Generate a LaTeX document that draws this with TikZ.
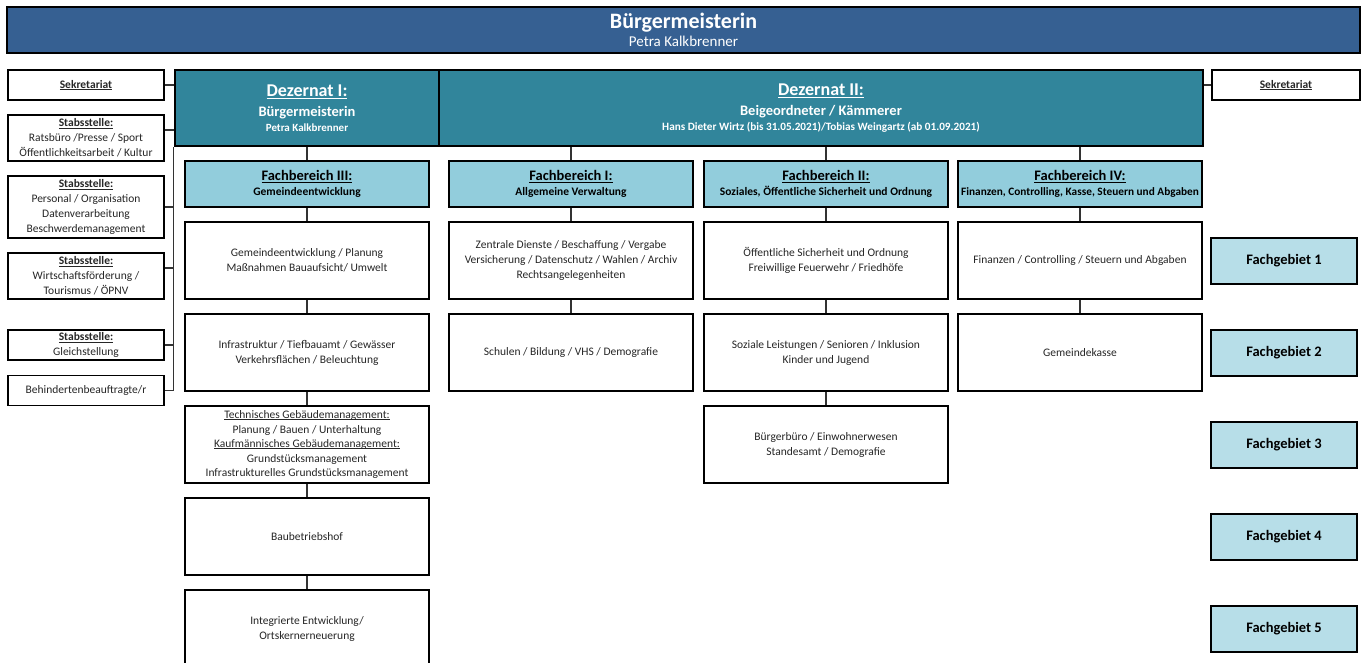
\documentclass[tikz,border=0pt]{standalone}
\usepackage{fontspec}
\setmainfont{Carlito}
\usetikzlibrary{calc,positioning}

\definecolor{bannerblue}{RGB}{54,96,146}
\definecolor{dezteal}{RGB}{49,133,155}
\definecolor{fbblue}{RGB}{146,205,220}
\definecolor{fgblue}{RGB}{183,222,232}

% underline at a fixed depth below the baseline
\newcommand{\undl}[1]{{\setbox0\hbox{#1}\leavevmode\rlap{\rule[-0.16em]{\wd0}{0.075em}}\box0}}

\tikzset{
	orgbox/.style={draw, line width=1.8pt, fill=white, align=center, inner sep=0pt, text=black!85},
	stabbox/.style={orgbox, minimum width=156pt, font=\fontsize{11.5}{15}\selectfont},
	fbhead/.style={orgbox, fill=fbblue, text=black, minimum width=244pt, minimum height=46pt, font=\fontsize{11.5}{15}\selectfont\bfseries},
	fbbox/.style={orgbox, minimum width=244pt, minimum height=77pt, font=\fontsize{11.5}{15}\selectfont},
	fgbox/.style={orgbox, fill=fgblue, text=black, minimum width=146pt, minimum height=46pt, font=\fontsize{14.5}{16}\selectfont\bfseries},
	dezbox/.style={draw, line width=2.4pt, fill=dezteal, text=white, align=center, inner sep=0pt, minimum height=76pt, font=\fontsize{11}{15}\selectfont\bfseries},
	link/.style={line width=1.3pt, draw=black!80}
}

\begin{document}
\begin{tikzpicture}[x=1pt,y=-1pt]
	\useasboundingbox (0,0) rectangle (1362,663);
	\clip (0,0) rectangle (1362,663);

	% Leitung
	\node[draw, line width=2.4pt, fill=bannerblue, text=white, minimum width=1353pt, minimum height=46pt, inner sep=0pt, align=center, font=\fontsize{15}{18}\selectfont] (bm) at (683.5,30) {{\fontsize{22}{22}\selectfont\bfseries B\"urgermeisterin}\\Petra Kalkbrenner};

	% Dezernate
	\node[dezbox, minimum width=264pt] (dz1) at (307,108) {{\fontsize{18}{18}\selectfont\undl{Dezernat I:}}\\[5pt]{\fontsize{14.5}{15}\selectfont B\"urgermeisterin}\\Petra Kalkbrenner};
	\node[dezbox, minimum width=764pt] (dz2) at (821,108) {{\fontsize{18}{18}\selectfont\undl{Dezernat II:}}\\[5pt]{\fontsize{14.5}{15}\selectfont Beigeordneter / K\"ammerer}\\{\fontsize{11.2}{15}\selectfont Hans Dieter Wirtz (bis 31.05.2021)/Tobias Weingartz (ab 01.09.2021)}};

	% Sekretariate und Stabsstellen
	\node[stabbox, minimum height=30pt] (sekl) at (86,85) {\textbf{\undl{Sekretariat}}};
	\node[stabbox, minimum width=148pt, minimum height=30pt] (sekr) at (1286,85) {\textbf{\undl{Sekretariat}}};
	\node[stabbox, minimum height=46pt] (st1) at (86,138) {\textbf{\undl{Stabsstelle:}}\\Ratsb\"uro /Presse / Sport\\\"Offentlichkeitsarbeit / Kultur};
	\node[stabbox, minimum height=62pt] (st2) at (86,207) {\textbf{\undl{Stabsstelle:}}\\Personal / Organisation\\Datenverarbeitung\\Beschwerdemanagement};
	\node[stabbox, minimum height=46pt] (st3) at (86,276) {\textbf{\undl{Stabsstelle:}}\\Wirtschaftsf\"orderung /\\Tourismus / \"OPNV};
	\node[stabbox, minimum height=30pt] (st4) at (86,345) {\textbf{\undl{Stabsstelle:}}\\Gleichstellung};
	\node[stabbox, minimum height=30pt] (st5) at (86,390.5) {Behindertenbeauftragte/r};

	\draw[link] (dz1.south west) -- (st5.east -| dz1.west);
	\draw[link] (sekl.east) -- (sekl.east -| dz1.west);
	\draw[link] ([yshift=8pt]st1.east) -- ([yshift=8pt]st1.east -| dz1.west);
	\draw[link] (st2.east) -- (st2.east -| dz1.west);
	\draw[link] ([yshift=8pt]st3.east) -- ([yshift=8pt]st3.east -| dz1.west);
	\draw[link] (st4.east) -- (st4.east -| dz1.west);
	\draw[link] (st5.east) -- (st5.east -| dz1.west);
	\draw[link] (sekr.west) -- (sekr.west -| dz2.east);

	% Fachbereiche
	\node[fbhead] (fbiii) at (307,184) {{\fontsize{14.5}{15}\selectfont\undl{Fachbereich III:}}\\Gemeindeentwicklung};
	\node[fbhead] (fbi) at (571,184) {{\fontsize{14.5}{15}\selectfont\undl{Fachbereich I:}}\\Allgemeine Verwaltung};
	\node[fbhead] (fbii) at (826,184) {{\fontsize{14.5}{15}\selectfont\undl{Fachbereich II:}}\\Soziales, \"Offentliche Sicherheit und Ordnung};
	\node[fbhead] (fbiv) at (1080,184) {{\fontsize{14.5}{15}\selectfont\undl{Fachbereich IV:}}\\{\fontsize{11.3}{15}\selectfont Finanzen, Controlling, Kasse, Steuern und Abgaben}};

	% Fachbereich III
	\node[fbbox] (fbiii1) at (307,260.5) {Gemeindeentwicklung / Planung\\Ma\ss nahmen Bauaufsicht/ Umwelt};
	\node[fbbox] (fbiii2) at (307,352.5) {Infrastruktur / Tiefbauamt / Gew\"asser\\Verkehrsfl\"achen / Beleuchtung};
	\node[fbbox, font=\fontsize{11.5}{14.5}\selectfont] (fbiii3) at (307,444.5) {\undl{Technisches Geb\"audemanagement:}\\Planung / Bauen / Unterhaltung\\\undl{Kaufm\"annisches Geb\"audemanagement:}\\Grundst\"ucksmanagement\\Infrastrukturelles Grundst\"ucksmanagement};
	\node[fbbox] (fbiii4) at (307,536.5) {Baubetriebshof};
	\node[fbbox] (fbiii5) at (307,628.5) {Integrierte Entwicklung/\\Ortskernerneuerung};

	% Fachbereich I
	\node[fbbox] (fbi1) at (571,260.5) {Zentrale Dienste / Beschaffung / Vergabe\\Versicherung / Datenschutz / Wahlen / Archiv\\Rechtsangelegenheiten};
	\node[fbbox] (fbi2) at (571,352.5) {Schulen / Bildung / VHS / Demografie};

	% Fachbereich II
	\node[fbbox] (fbii1) at (826,260.5) {\"Offentliche Sicherheit und Ordnung\\Freiwillige Feuerwehr / Friedh\"ofe};
	\node[fbbox] (fbii2) at (826,352.5) {Soziale Leistungen / Senioren / Inklusion\\Kinder und Jugend};
	\node[fbbox] (fbii3) at (826,444.5) {B\"urgerb\"uro / Einwohnerwesen\\Standesamt / Demografie};

	% Fachbereich IV
	\node[fbbox] (fbiv1) at (1080,260.5) {Finanzen / Controlling / Steuern und Abgaben};
	\node[fbbox] (fbiv2) at (1080,352.5) {Gemeindekasse};

	% Fachgebiete
	\foreach \i in {1,...,5}
		\node[fgbox] (fg\i) at (1284,{261+92*(\i-1)}) {Fachgebiet \i};

	% Verbindungen
	\draw[link] (dz1.south) -- (fbiii.north);
	\foreach \f in {fbi,fbii,fbiv}
		\draw[link] (\f.north) -- (\f.north |- dz2.south);
	\foreach \a/\b in {fbiii/fbiii1,fbiii1/fbiii2,fbiii2/fbiii3,fbiii3/fbiii4,fbiii4/fbiii5,fbi/fbi1,fbi1/fbi2,fbii/fbii1,fbii1/fbii2,fbii2/fbii3,fbiv/fbiv1,fbiv1/fbiv2}
		\draw[link] (\a.south) -- (\b.north);
\end{tikzpicture}
\end{document}
